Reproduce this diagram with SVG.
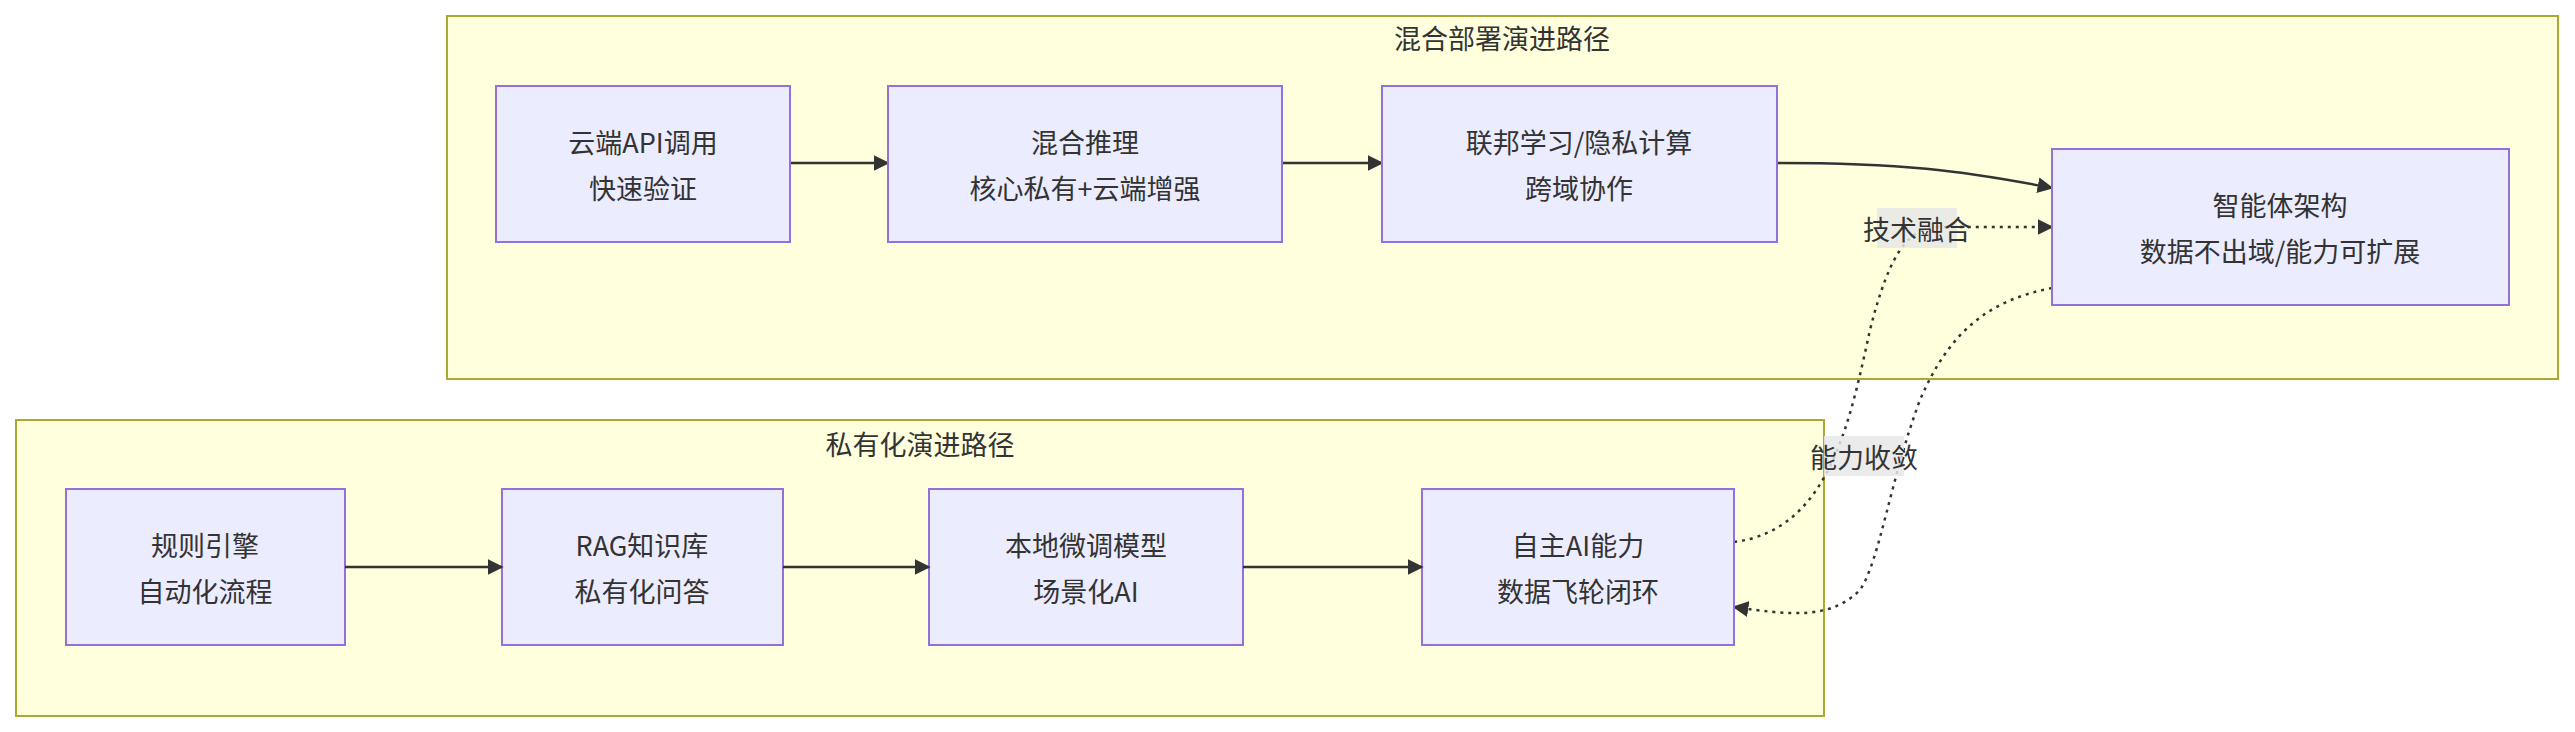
<svg xmlns="http://www.w3.org/2000/svg" width="2575" height="732" viewBox="0 0 2575 732">
<style>
.cl{fill:#ffffde;stroke:#aaaa33;stroke-width:2}
.nd{fill:#ECECFF;stroke:#9370DB;stroke-width:2}
text{font-family:"Noto Sans CJK SC","Liberation Sans",sans-serif;fill:#333;font-size:27px;text-anchor:middle;dominant-baseline:central}
.e{fill:none;stroke:#333;stroke-width:2.5}
.d{stroke-dasharray:3 5;stroke-width:2.5}
.lb{fill:#e8e8e8;opacity:0.85}
</style>
<defs><marker id="a" viewBox="0 0 10 10" refX="9" refY="5" markerWidth="8" markerHeight="8" orient="auto" markerUnits="userSpaceOnUse" ><path d="M0,0L10,5L0,10z" fill="#333"/></marker>
<marker id="ah" viewBox="0 0 10 10" refX="9" refY="5" markerWidth="16" markerHeight="16" orient="auto" markerUnits="userSpaceOnUse"><path d="M0,0L10,5L0,10z" fill="#333"/></marker></defs>
<g id="cluster-hybrid"><rect class="cl" x="447" y="16" width="2111" height="363"/><text x="1502" y="37">混合部署演进路径</text></g>
<g id="cluster-private"><rect class="cl" x="16" y="420" width="1808" height="296"/><text x="920" y="443">私有化演进路径</text></g>
<g id="edges">
<path class="e" d="M790,163H888" marker-end="url(#ah)"/>
<path class="e" d="M1282,163H1382" marker-end="url(#ah)"/>
<path class="e" d="M1777,163C1900,163 1960,170 2052,188" marker-end="url(#ah)"/>
<path class="e d" d="M1734,542C1830,530 1850,420 1870,330C1890,250 1910,227 1940,227H2052" marker-end="url(#ah)"/>
<path class="e d" d="M2052,288C1990,300 1950,330 1920,400C1890,480 1880,560 1860,590C1830,620 1790,615 1734,607" marker-end="url(#ah)"/>
</g>
<g id="lbl1"><rect class="lb" x="1877" y="208" width="80" height="40"/><text x="1917" y="228">技术融合</text></g>
<g id="lbl2"><rect class="lb" x="1824" y="436" width="80" height="40"/><text x="1864" y="456">能力收敛</text></g>
<g id="n1"><rect class="nd" x="496" y="86" width="294" height="156"/><text x="643" y="141">云端API调用</text><text x="643" y="187">快速验证</text></g>
<g id="n2"><rect class="nd" x="888" y="86" width="394" height="156"/><text x="1085" y="141">混合推理</text><text x="1085" y="187">核心私有+云端增强</text></g>
<g id="n3"><rect class="nd" x="1382" y="86" width="395" height="156"/><text x="1579" y="141">联邦学习/隐私计算</text><text x="1579" y="187">跨域协作</text></g>
<g id="n4"><rect class="nd" x="2052" y="149" width="457" height="156"/><text x="2280" y="204">智能体架构</text><text x="2280" y="250">数据不出域/能力可扩展</text></g>
<g id="b1"><rect class="nd" x="66" y="489" width="279" height="156"/><text x="205" y="544">规则引擎</text><text x="205" y="590">自动化流程</text></g>
<g id="b2"><rect class="nd" x="502" y="489" width="281" height="156"/><text x="642" y="544">RAG知识库</text><text x="642" y="590">私有化问答</text></g>
<g id="b3"><rect class="nd" x="929" y="489" width="314" height="156"/><text x="1086" y="544">本地微调模型</text><text x="1086" y="590">场景化AI</text></g>
<g id="b4"><rect class="nd" x="1422" y="489" width="312" height="156"/><text x="1578" y="544">自主AI能力</text><text x="1578" y="590">数据飞轮闭环</text></g>
<g id="edges2">
<path class="e" d="M345,567H502" marker-end="url(#ah)"/>
<path class="e" d="M783,567H929" marker-end="url(#ah)"/>
<path class="e" d="M1243,567H1422" marker-end="url(#ah)"/>
</g>
</svg>
